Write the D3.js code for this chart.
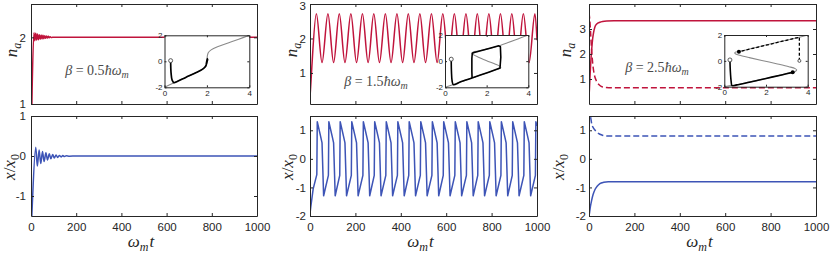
<!DOCTYPE html>
<html><head><meta charset="utf-8">
<script src="https://cdn.jsdelivr.net/npm/d3@7"></script>
<style>body{margin:0;background:#fff}svg{display:block}</style>
</head><body>
<svg id="c" width="830" height="255"></svg>
<script>
// ---------------- DATA ----------------
const timeTicks = [0, 200, 400, 600, 800, 1000];
const timeDomain = [0, 1000];
const betaLabels = ["0.5", "1.5", "2.5"];

// axis ranges and tick labels
const p1NaDomain = [1, 2.5],  p1NaTicks = [1, 2];
const p1XDomain  = [-1.5, 1], p1XTicks  = [-1, 0, 1];
const p2NaDomain = [0.1, 3],  p2NaTicks = [1, 2, 3];
const p2XDomain  = [-2, 1.5], p2XTicks  = [-2, -1, 0, 1];
const p3NaDomain = [0, 4],    p3NaTicks = [1, 2, 3];
const p3XDomain  = [-2, 1.5], p3XTicks  = [-2, -1, 0, 1];
const insetNDomain = [0, 4], insetNTicks = [0, 2, 4];
const insetXDomain = [-2, 2], insetXTicks = [-2, 0, 2];

// Panel 1 (beta = 0.5): n_a(t), x(t)
const p1NaT = [0, 2, 5, 13, 17, 21, 25, 29, 33, 37, 41, 45, 49, 53, 57, 61, 65, 69, 73, 77, 81, 85, 89, 95, 1000];
const p1Na  = [0.29, 0.6, 1.2, 2.07, 1.95, 2.06, 1.96, 2.05, 1.965, 2.04, 1.97, 2.035, 1.975, 2.03, 1.98, 2.025, 1.985, 2.02, 1.99, 2.015, 1.993, 2.01, 1.996, 2.0, 2.0];
const p1XT = [0, 2, 4, 21, 28, 36, 43, 51, 58, 66, 73, 81, 88, 96, 103, 111, 118, 126, 133, 141, 148, 156, 170, 200, 1000];
const p1X  = [0, -1.7, -1.45, 0.22, -0.25, 0.15, -0.19, 0.11, -0.14, 0.08, -0.1, 0.055, -0.07, 0.04, -0.05, 0.025, -0.035, 0.015, -0.022, 0.01, -0.014, 0.005, -0.006, 0, 0];

// Panel 2 (beta = 1.5): self-sustained oscillation
const p2NaT = [0, 3, 7, 28, 53, 79, 104, 129, 154, 180, 205, 231, 256, 281, 306, 332, 357, 383, 408, 433, 458, 484, 509, 535, 560, 585, 610, 636, 661, 687, 712, 737, 762, 788, 813, 839, 864, 889, 914, 940, 965, 991, 1000];
const p2Na  = [0.3, 0.6, 1.05, 2.72, 1.3, 2.72, 1.3, 2.72, 1.3, 2.72, 1.3, 2.72, 1.3, 2.72, 1.3, 2.72, 1.3, 2.72, 1.3, 2.72, 1.3, 2.72, 1.3, 2.72, 1.3, 2.72, 1.3, 2.72, 1.3, 2.72, 1.3, 2.72, 1.3, 2.72, 1.3, 2.72, 1.3, 2.72, 1.3, 2.72, 1.3, 2.72, 1.95];
const p2XT = [0, 1, 4, 14, 30, 32, 47, 53, 60,
  81, 83, 98, 104, 111,  131, 133, 148, 154, 161,  182, 184, 199, 205, 212,  233, 235, 250, 256, 263,
  283, 285, 300, 306, 313,  334, 336, 351, 357, 364,  385, 387, 402, 408, 415,  435, 437, 452, 458, 465,
  486, 488, 503, 509, 516,  537, 539, 554, 560, 567,  587, 589, 604, 610, 617,  638, 640, 655, 661, 668,
  689, 691, 706, 712, 719,  739, 741, 756, 762, 769,  790, 792, 807, 813, 820,  841, 843, 858, 864, 871,
  891, 893, 908, 914, 921,  942, 944, 959, 965, 972,  993, 995, 1000];
const p2X = [0, -1.85, -1.65, -1.05, -0.55, 1.3, 0.78, 0.56, -1.29,
  -0.58, 1.3, 0.78, 0.56, -1.29,  -0.58, 1.3, 0.78, 0.56, -1.29,  -0.58, 1.3, 0.78, 0.56, -1.29,  -0.58, 1.3, 0.78, 0.56, -1.29,
  -0.58, 1.3, 0.78, 0.56, -1.29,  -0.58, 1.3, 0.78, 0.56, -1.29,  -0.58, 1.3, 0.78, 0.56, -1.29,  -0.58, 1.3, 0.78, 0.56, -1.29,
  -0.58, 1.3, 0.78, 0.56, -1.29,  -0.58, 1.3, 0.78, 0.56, -1.29,  -0.58, 1.3, 0.78, 0.56, -1.29,  -0.58, 1.3, 0.78, 0.56, -1.29,
  -0.58, 1.3, 0.78, 0.56, -1.29,  -0.58, 1.3, 0.78, 0.56, -1.29,  -0.58, 1.3, 0.78, 0.56, -1.29,  -0.58, 1.3, 0.78, 0.56, -1.29,
  -0.58, 1.3, 0.78, 0.56, -1.29,  -0.58, 1.3, 0.78, 0.56, -1.29,  -0.58, 1.3, 1.15];

// Panel 3 (beta = 2.5): bistable, two initial conditions (solid, dashed)
const p3NaT  = [0, 2, 5, 8, 12, 16, 20, 26, 34, 48, 60, 78, 110, 1000];
const p3Na   = [0.27, 0.6, 1.2, 1.7, 2.2, 2.6, 2.85, 3.08, 3.2, 3.27, 3.3, 3.32, 3.33, 3.33];
const p3NaDT = [0, 4, 8, 12, 16, 20, 26, 34, 48, 60, 75, 110, 1000];
const p3NaD  = [3.65, 3.3, 2.7, 2.1, 1.65, 1.35, 1.08, 0.9, 0.74, 0.68, 0.66, 0.65, 0.65];
const p3XT   = [0, 1, 3, 6, 12, 18, 26, 35, 48, 65, 85, 120, 1000];
const p3X    = [0, -1.95, -1.85, -1.68, -1.44, -1.25, -1.08, -0.97, -0.87, -0.82, -0.8, -0.8, -0.8];
const p3XDT  = [0, 1, 4, 8, 12, 18, 26, 35, 48, 62, 78, 110, 1000];
const p3XD   = [0, 1.83, 1.65, 1.42, 1.22, 1.1, 1.01, 0.93, 0.86, 0.82, 0.8, 0.8, 0.8];

// Insets: steady-state curve (gray) and trajectory (black), x-axis n_a, y-axis x/x0
const in1GrayN = [0, 0.5, 1.0, 1.5, 1.8, 1.92, 1.97, 2.0, 2.02, 2.07, 2.2, 2.5, 3.0, 3.5, 4.0];
const in1GrayX = [-2, -1.62, -1.24, -0.86, -0.6, -0.45, -0.3, 0.0, 0.4, 0.68, 0.88, 1.12, 1.41, 1.7, 2.0];
const in1BlackN = [0.29, 0.31, 0.36, 0.45, 0.6, 1.0, 1.5, 1.8, 1.93, 1.99, 2.02, 1.96, 2.04, 1.97, 2.03, 1.98, 2.01, 2.0];
const in1BlackX = [0.05, -0.9, -1.45, -1.64, -1.55, -1.24, -0.86, -0.6, -0.4, -0.15, 0.2, -0.3, 0.15, -0.22, 0.1, -0.1, 0.05, 0.0];

const in2GrayN = [0, 0.5, 1.0, 1.5, 2.0, 2.4, 2.62, 2.68, 2.62, 2.4, 2.0, 1.6, 1.38, 1.3, 1.36, 1.6, 2.0, 2.4, 2.65, 3.0, 3.5, 4.0];
const in2GrayX = [-2, -1.73, -1.45, -1.17, -0.9, -0.68, -0.56, -0.48, -0.38, -0.22, 0.03, 0.3, 0.48, 0.6, 0.7, 0.78, 0.92, 1.08, 1.2, 1.4, 1.7, 2.0];
const in2InitN = [0.3, 0.31, 0.34, 0.4, 0.7, 1.0, 1.3];
const in2InitX = [0.15, -0.8, -1.5, -1.8, -1.62, -1.45, -1.28];
const in2LoopN = [1.3, 1.7, 2.1, 2.45, 2.64, 2.68, 2.66, 2.58, 2.2, 1.8, 1.4, 1.31, 1.29, 1.29, 1.3];
const in2LoopX = [-1.28, -1.06, -0.84, -0.64, -0.53, 0.3, 1.1, 1.17, 1.0, 0.83, 0.66, 0.6, 0.2, -0.8, -1.28];

const in3GrayN = [0, 0.4, 1.0, 2.0, 3.0, 3.28, 3.42, 3.47, 3.4, 3.1, 2.5, 1.8, 1.2, 0.75, 0.55, 0.5, 0.55, 0.7, 1.5, 2.5, 3.6, 4.0];
const in3GrayX = [-2, -1.9, -1.72, -1.36, -0.99, -0.89, -0.8, -0.7, -0.6, -0.45, -0.22, 0.03, 0.25, 0.43, 0.53, 0.6, 0.68, 0.72, 1.03, 1.42, 1.83, 2.0];
const in3SolidN = [0.27, 0.29, 0.33, 0.37, 0.6, 1.2, 2.0, 2.8, 3.28];
const in3SolidX = [0.07, -0.8, -1.6, -1.92, -1.86, -1.65, -1.36, -1.07, -0.89];
const in3DashN = [3.6, 3.6, 3.6, 2.8, 2.0, 1.3, 0.7];
const in3DashX = [0.0, 1.0, 1.83, 1.52, 1.21, 0.94, 0.71];

// ---------------- DRAWING ----------------
const RED = "#c0143c", BLUE = "#3d54b6", AX = "#262626";
const SANS = "'Liberation Sans', Arial, sans-serif";
const SERIF = "'Liberation Serif', 'DejaVu Serif', serif";
const svg = d3.select("#c");
const zip = (a, b) => a.map((d, i) => [d, b[i]]);
const ROW = {top: [4, 104], bot: [116, 216]};

const panels = [
  {L: 31, R: 257, gap: 5, nOff: 14, xOff: 16, naDom: p1NaDomain, naTicks: p1NaTicks, xDom: p1XDomain, xTicks: p1XTicks,
   beta: betaLabels[0], bPos: [97, 75], inset: [164.5, 35.3, 249.3, 87.3],
   na: [{d: zip(p1NaT, p1Na)}], xs: [{d: zip(p1XT, p1X)}]},
  {L: 310, R: 537, gap: 4, nOff: 13, xOff: 17, naDom: p2NaDomain, naTicks: p2NaTicks, xDom: p2XDomain, xTicks: p2XTicks,
   beta: betaLabels[1], bPos: [376, 86], inset: [445, 35, 528.3, 87.3],
   na: [{d: zip(p2NaT, p2Na)}], xs: [{d: zip(p2XT, p2X), linear: true}]},
  {L: 589, R: 816, gap: 3, nOff: 18, xOff: 25, naDom: p3NaDomain, naTicks: p3NaTicks, xDom: p3XDomain, xTicks: p3XTicks,
   beta: betaLabels[2], bPos: [657, 71.5], inset: [724.3, 35, 807.7, 86.7],
   na: [{d: zip(p3NaT, p3Na)}, {d: zip(p3NaDT, p3NaD), dash: "6,3"}],
   xs: [{d: zip(p3XT, p3X)}, {d: zip(p3XDT, p3XD), dash: "6,3"}]}
];

function styleAxis(g, fs) {
  g.selectAll("path.domain").attr("stroke", AX).attr("stroke-width", 1);
  g.selectAll(".tick line").attr("stroke", AX).attr("stroke-width", 1);
  g.selectAll(".tick text").attr("fill", AX).style("font-family", SANS).style("font-size", fs + "px");
}

function boxAxes(g, xS, yS, xTicks, yTicks, o) {
  const [x0, x1] = xS.range(), [y1, y0] = yS.range();
  const fmt = d => String(d);
  g.append("g").attr("transform", `translate(0,${y1})`)
    .call(d3.axisBottom(xS).tickValues(xTicks).tickSize(-o.tl).tickSizeOuter(0).tickPadding(o.xpad)
      .tickFormat(o.xlabels ? fmt : () => "")).call(a => styleAxis(a, o.fs));
  g.append("g").attr("transform", `translate(0,${y0})`)
    .call(d3.axisTop(xS).tickValues(xTicks).tickSize(-o.tl).tickSizeOuter(0).tickFormat(() => ""))
    .call(a => styleAxis(a, o.fs));
  const la = g.append("g").attr("transform", `translate(${x0},0)`)
    .call(d3.axisLeft(yS).tickValues(yTicks).tickSize(-o.tl).tickSizeOuter(0).tickPadding(o.ypad).tickFormat(fmt))
    .call(a => styleAxis(a, o.fs));
  // keep a label sitting on the very top edge of the window inside it
  if (y0 < 6) la.selectAll(".tick text").filter(d => Math.abs(yS(d) - y0) < 0.5).attr("y", 1.5);
  g.append("g").attr("transform", `translate(${x1},0)`)
    .call(d3.axisRight(yS).tickValues(yTicks).tickSize(-o.tl).tickSizeOuter(0).tickFormat(() => ""))
    .call(a => styleAxis(a, o.fs));
}

let clipId = 0;
function plotArea(p, row, dom, ticks, series, color, isBottom) {
  const [T, B] = ROW[row];
  const xS = d3.scaleLinear().domain(timeDomain).range([p.L, p.R]);
  const yS = d3.scaleLinear().domain(dom).range([B, T]);
  const id = "clip" + (clipId++);
  svg.append("clipPath").attr("id", id).append("rect")
    .attr("x", p.L).attr("y", T).attr("width", p.R - p.L).attr("height", B - T);
  const g = svg.append("g");
  const lg = g.append("g").attr("clip-path", `url(#${id})`);
  series.forEach(s => {
    const line = d3.line().x(d => xS(d[0])).y(d => yS(d[1]))
      .curve(s.linear ? d3.curveLinear : d3.curveMonotoneX);
    lg.append("path").attr("d", line(s.d)).attr("fill", "none").attr("stroke", color)
      .attr("stroke-width", 1.5).attr("stroke-dasharray", s.dash || null)
      .attr("stroke-linejoin", "round");
  });
  boxAxes(g, xS, yS, timeTicks, ticks, {tl: 3, xpad: 7, ypad: p.gap, fs: 11.5, xlabels: isBottom});
  return g;
}

function insetPlot(p, idx) {
  const [L, T, R, B] = p.inset;
  const xS = d3.scaleLinear().domain(insetNDomain).range([L, R]);
  const yS = d3.scaleLinear().domain(insetXDomain).range([B, T]);
  const g = svg.append("g");
  g.append("rect").attr("x", L).attr("y", T).attr("width", R - L).attr("height", B - T).attr("fill", "#fff");
  const id = "iclip" + idx;
  svg.append("clipPath").attr("id", id).append("rect").attr("x", L).attr("y", T).attr("width", R - L).attr("height", B - T);
  const lg = g.append("g").attr("clip-path", `url(#${id})`);
  const cr = d3.line().x(d => xS(d[0])).y(d => yS(d[1])).curve(d3.curveCatmullRom.alpha(0.5));
  const ln = d3.line().x(d => xS(d[0])).y(d => yS(d[1]));
  const gray = [in1GrayN, in2GrayN, in3GrayN][idx], grayX = [in1GrayX, in2GrayX, in3GrayX][idx];
  lg.append("path").attr("d", cr(zip(gray, grayX))).attr("fill", "none").attr("stroke", "#8a8a8a").attr("stroke-width", 1.1);
  const blk = (d, curve, dash, w) => lg.append("path").attr("d", (curve ? cr : ln)(d)).attr("fill", "none")
    .attr("stroke", "#000").attr("stroke-width", w || 1.6).attr("stroke-dasharray", dash || null).attr("stroke-linejoin", "round");
  let start;
  if (idx === 0) { blk(zip(in1BlackN, in1BlackX), true, null, 1.7); start = [in1BlackN[0], in1BlackX[0]]; }
  if (idx === 1) { blk(zip(in2InitN, in2InitX), true); blk(zip(in2LoopN, in2LoopX), false); start = [in2InitN[0], in2InitX[0]]; }
  if (idx === 2) {
    blk(zip(in3SolidN, in3SolidX), true);
    blk(zip(in3DashN, in3DashX), false, "3,2", 1.3);
    start = [in3SolidN[0], in3SolidX[0]];
    [[in3SolidN[in3SolidN.length - 1], in3SolidX[in3SolidX.length - 1]], [in3DashN[in3DashN.length - 1], in3DashX[in3DashX.length - 1]]]
      .forEach(d => g.append("circle").attr("cx", xS(d[0])).attr("cy", yS(d[1])).attr("r", 2).attr("fill", "#000"));
    g.append("circle").attr("cx", xS(in3DashN[0])).attr("cy", yS(in3DashX[0])).attr("r", 1.5)
      .attr("fill", "#fff").attr("stroke", "#333").attr("stroke-width", 0.8);
  }
  g.append("circle").attr("cx", xS(start[0])).attr("cy", yS(start[1])).attr("r", 2)
    .attr("fill", "#fff").attr("stroke", "#333").attr("stroke-width", 0.8);
  boxAxes(g, xS, yS, insetNTicks, insetXTicks, {tl: 2, xpad: 3, ypad: 2, fs: 8, xlabels: true});
}

function ylabelNa(x, y) {
  const t = svg.append("text").attr("transform", `translate(${x},${y}) rotate(-90)`).attr("text-anchor", "middle")
    .attr("font-family", SERIF).attr("font-size", 17).attr("font-style", "italic").attr("fill", AX);
  t.append("tspan").text("n");
  t.append("tspan").text("a").attr("font-size", 12).attr("dy", 4);
}
function ylabelX(x, y) {
  const t = svg.append("text").attr("transform", `translate(${x},${y}) rotate(-90)`).attr("text-anchor", "middle")
    .attr("font-family", SERIF).attr("font-size", 17).attr("fill", AX);
  t.append("tspan").text("x").attr("font-style", "italic");
  t.append("tspan").text("/");
  t.append("tspan").text("x").attr("font-style", "italic");
  t.append("tspan").text("0").attr("font-size", 12).attr("dy", 4);
}
function xlabel(x, y) {
  const t = svg.append("text").attr("x", x).attr("y", y).attr("text-anchor", "middle")
    .attr("font-family", SERIF).attr("font-size", 17).attr("font-style", "italic").attr("fill", AX);
  t.append("tspan").text("ω");
  t.append("tspan").text("m").attr("font-size", 12).attr("dy", 4);
  t.append("tspan").text("t").attr("dy", -4).attr("dx", 1);
}
function betaLabel(x, y, val) {
  const t = svg.append("text").attr("x", x).attr("y", y).attr("text-anchor", "middle")
    .attr("font-family", SERIF).attr("font-size", 14).attr("fill", "#4a4a4a");
  t.append("tspan").text("β").attr("font-style", "italic");
  t.append("tspan").text(" = " + val);
  t.append("tspan").text("ħω").attr("font-style", "italic");
  t.append("tspan").text("m").attr("font-style", "italic").attr("font-size", 10).attr("dy", 3);
}

panels.forEach((p, i) => {
  plotArea(p, "top", p.naDom, p.naTicks, p.na, RED, false);
  plotArea(p, "bot", p.xDom, p.xTicks, p.xs, BLUE, true);
  betaLabel(p.bPos[0], p.bPos[1], p.beta);
  insetPlot(p, i);
  ylabelNa(p.L - p.nOff, 50);
  ylabelX(p.L - p.xOff, 167);
  xlabel((p.L + p.R) / 2 - 3, 247);
});
</script></body></html>
